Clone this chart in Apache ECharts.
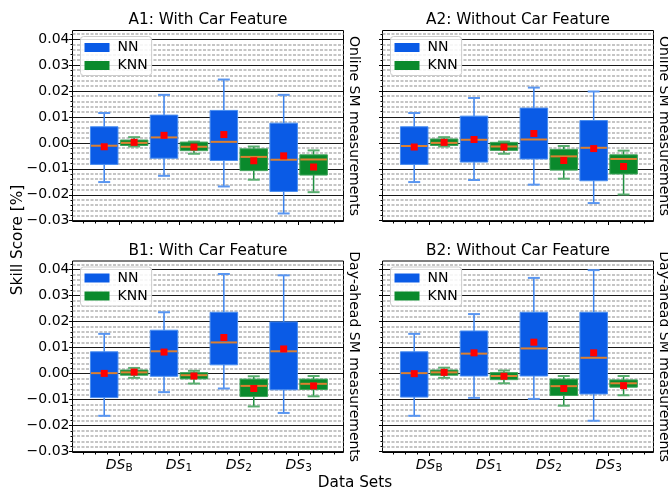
<!DOCTYPE html>
<html><head><meta charset="utf-8">
<script src="https://cdn.jsdelivr.net/npm/echarts@6/dist/echarts.min.js"></script>
<style>html,body{margin:0;padding:0;background:#fff}#c{width:668px;height:493px}</style>
</head><body><div id="c"></div>
<script>
// ---- data ----
const categories = ['B', '1', '2', '3'];           // subscripts of DS labels
const yTickValues = [-0.03, -0.02, -0.01, 0, 0.01, 0.02, 0.03, 0.04];
const panelTitles = ['A1: With Car Feature', 'A2: Without Car Feature', 'B1: With Car Feature', 'B2: Without Car Feature'];
const rowLabels = ['Online SM measurements', 'Day-ahead SM measurements'];
const seriesNames = ['NN', 'KNN'];
// each row: [whiskerLow, q1, median, q3, whiskerHigh, mean]
const A1_NN = [[-0.0151,-0.0083,-0.0011,0.0062,0.0115,-0.0015],[-0.0127,-0.0059,0.0021,0.0107,0.0185,0.0029],[-0.0168,-0.0068,0.0004,0.0125,0.0244,0.0032],[-0.0272,-0.0187,-0.0065,0.0076,0.0185,-0.0050]];
const A1_KNN = [[-0.0014,-0.0010,0.0000,0.0011,0.0022,0.0002],[-0.0042,-0.0030,-0.0015,0.0003,0.0005,-0.0016],[-0.0142,-0.0107,-0.0054,-0.0023,-0.0014,-0.0069],[-0.0190,-0.0124,-0.0064,-0.0046,-0.0029,-0.0093]];
const A2_NN = [[-0.0151,-0.0083,-0.0012,0.0062,0.0115,-0.0016],[-0.0143,-0.0074,0.0012,0.0103,0.0173,0.0013],[-0.0161,-0.0062,0.0013,0.0134,0.0213,0.0036],[-0.0232,-0.0146,-0.0019,0.0086,0.0198,-0.0022]];
const A2_KNN = [[-0.0014,-0.0010,0.0000,0.0015,0.0022,0.0002],[-0.0042,-0.0029,-0.0014,0.0002,0.0005,-0.0016],[-0.0138,-0.0105,-0.0052,-0.0025,-0.0012,-0.0068],[-0.0199,-0.0120,-0.0062,-0.0046,-0.0030,-0.0091]];
const B1_NN = [[-0.0162,-0.0092,0.0002,0.0084,0.0153,0.0001],[-0.0071,-0.0010,0.0086,0.0167,0.0236,0.0083],[-0.0057,0.0034,0.0120,0.0236,0.0383,0.0139],[-0.0151,-0.0062,0.0086,0.0199,0.0378,0.0095]];
const B1_KNN = [[-0.0016,-0.0006,0.0005,0.0014,0.0022,0.0006],[-0.0038,-0.0020,-0.0006,0.0004,0.0011,-0.0009],[-0.0126,-0.0088,-0.0047,-0.0021,-0.0010,-0.0057],[-0.0087,-0.0061,-0.0039,-0.0021,-0.0009,-0.0047]];
const B2_NN = [[-0.0162,-0.0090,0.0002,0.0084,0.0153,0.0000],[-0.0093,-0.0009,0.0077,0.0164,0.0229,0.0080],[-0.0097,-0.0009,0.0097,0.0236,0.0368,0.0121],[-0.0181,-0.0078,0.0061,0.0236,0.0398,0.0080]];
const B2_KNN = [[-0.0016,-0.0006,0.0005,0.0014,0.0023,0.0005],[-0.0037,-0.0023,-0.0009,0.0004,0.0012,-0.0010],[-0.0123,-0.0084,-0.0048,-0.0021,-0.0009,-0.0057],[-0.0083,-0.0052,-0.0037,-0.0024,-0.0009,-0.0046]];
const panelData = [[A1_NN, A1_KNN], [A2_NN, A2_KNN], [B1_NN, B1_KNN], [B2_NN, B2_KNN]];

// ---- styling / layout ----
const FONT = 'DejaVu Sans';
const X_MIN = -0.78, X_MAX = 3.75, Y_MIN = -0.0303, Y_MAX = 0.0433;
const OFFSETS = [-0.25, 0.25], BOX_W = 0.46, CAP_W = 0.2;
const STY = [
  {fill: '#0a5be6', edge: '#4a8ef0', whisk: '#3a82ee', cap: '#5a96f0'},
  {fill: '#0a8a2c', edge: '#3fa35a', whisk: '#1f9040', cap: '#5aae70'}
];
const grids = [
  {left: 72.5, top: 30.5, width: 271, height: 191},
  {left: 382.5, top: 30.5, width: 271, height: 191},
  {left: 72.5, top: 261, width: 271, height: 191.5},
  {left: 382.5, top: 261, width: 271, height: 191.5}
];

const yMinor = [];
for (let i = 0; i < yTickValues.length; i++) {
  for (let k = 1; k < 5; k++) {
    const v = +(yTickValues[i] + k * 0.002).toFixed(4);
    if (v < Y_MAX) yMinor.push(v);
  }
}
const catPos = categories.map((_, i) => i);
const xMinor = [];
for (let v = -3; v <= 19; v++) {
  const x = +(v * 0.2).toFixed(2);
  if (x > X_MIN && x < X_MAX && Math.abs(x - Math.round(x)) > 1e-6) xMinor.push(x);
}
function fmtY(v) {
  if (Math.abs(v) < 1e-9) return '0.00';
  return v < 0 ? '\u2212' + (-v).toFixed(2) : v.toFixed(2);
}

function renderBox(sty) {
  return function (params, api) {
    const x = api.value(0);
    const c = (v) => api.coord([x, v]);
    const low = c(api.value(1)), q1 = c(api.value(2)), med = c(api.value(3)),
          q3 = c(api.value(4)), high = c(api.value(5)), mean = c(api.value(6));
    const bw = api.size([BOX_W, 0])[0];
    const cw = api.size([CAP_W, 0])[0];
    const px = low[0];
    return {
      type: 'group',
      children: [
        {type: 'line', shape: {x1: px, y1: q3[1], x2: px, y2: high[1]}, style: {stroke: sty.whisk, lineWidth: 1.5}},
        {type: 'line', shape: {x1: px, y1: q1[1], x2: px, y2: low[1]}, style: {stroke: sty.whisk, lineWidth: 1.5}},
        {type: 'line', shape: {x1: px - cw / 2, y1: high[1], x2: px + cw / 2, y2: high[1]}, style: {stroke: sty.cap, lineWidth: 2}},
        {type: 'line', shape: {x1: px - cw / 2, y1: low[1], x2: px + cw / 2, y2: low[1]}, style: {stroke: sty.cap, lineWidth: 2}},
        {type: 'rect', shape: {x: px - bw / 2, y: q3[1], width: bw, height: q1[1] - q3[1]}, style: {fill: sty.fill, stroke: sty.edge, lineWidth: 1}},
        {type: 'line', shape: {x1: px - bw / 2 + 0.5, y1: med[1], x2: px + bw / 2 - 0.5, y2: med[1]}, style: {stroke: '#dc8030', lineWidth: 2}},
        {type: 'rect', shape: {x: mean[0] - 3.5, y: mean[1] - 3.5, width: 7, height: 7}, style: {fill: '#ff0000'}}
      ]
    };
  };
}

const xAxis = [], yAxis = [], series = [], legend = [], graphic = [];
grids.forEach((g, gi) => {
  const row = gi >> 1, col = gi & 1;
  xAxis.push({
    gridIndex: gi, type: 'value', min: X_MIN, max: X_MAX, position: 'bottom',
    axisLine: {show: false, onZero: false}, splitLine: {show: false},
    axisTick: {show: true, customValues: catPos, length: 3.5, lineStyle: {color: '#000', width: 1}},
    axisLabel: {
      show: row === 1, customValues: catPos, margin: 4, color: '#000',
      formatter: (v) => '{i|DS}{s|' + categories[Math.round(v)] + '}',
      rich: {
        i: {fontFamily: FONT, fontStyle: 'italic', fontSize: 14, color: '#000'},
        s: {fontFamily: FONT, fontSize: 10.5, color: '#000', padding: [6, 0, 0, 0]}
      }
    }
  });
  xAxis.push({
    gridIndex: gi, type: 'value', min: X_MIN, max: X_MAX, position: 'bottom',
    axisLine: {show: false, onZero: false}, splitLine: {show: false}, axisLabel: {show: false},
    axisTick: {show: true, customValues: xMinor, length: 2, lineStyle: {color: '#000', width: 1}}
  });
  yAxis.push({
    gridIndex: gi, type: 'value', min: Y_MIN, max: Y_MAX, position: 'left',
    axisLine: {show: false, onZero: false}, axisLabel: {show: false},
    axisTick: {show: true, customValues: yMinor, length: 2, lineStyle: {color: '#000', width: 1}},
    splitLine: {show: true, lineStyle: {color: '#b2b2b2', width: 1.5, type: [3, 1.5]}}
  });
  yAxis.push({
    gridIndex: gi, type: 'value', min: Y_MIN, max: Y_MAX, position: 'left',
    axisLine: {show: false, onZero: false},
    axisTick: {show: true, customValues: yTickValues, length: 3.5, lineStyle: {color: '#000', width: 1}},
    axisLabel: {show: col === 0, customValues: yTickValues, formatter: fmtY, margin: 3,
      fontFamily: FONT, fontSize: 14, color: '#000'},
    splitLine: {show: true, lineStyle: {color: '#1a1a1a', width: 1}}
  });
  panelData[gi].forEach((arr, si) => {
    series.push({
      type: 'custom', name: seriesNames[si],
      xAxisIndex: gi * 2, yAxisIndex: gi * 2 + 1,
      itemStyle: {color: STY[si].fill},
      renderItem: renderBox(STY[si]),
      encode: {x: 0, y: [1, 2, 3, 4, 5, 6]},
      data: arr.map((d, ci) => [ci + OFFSETS[si]].concat(d)),
      z: 3, silent: true
    });
  });
  legend.push({
    data: seriesNames, orient: 'vertical', left: g.left + 8, top: g.top + 6,
    icon: 'rect', itemWidth: 25, itemHeight: 9, itemGap: 4, selectedMode: false,
    textStyle: {fontFamily: FONT, fontSize: 14, color: '#000', padding: [0, 0, 0, 3]},
    backgroundColor: 'rgba(255,255,255,0.85)', borderColor: '#cccccc', borderWidth: 1,
    borderRadius: 3, padding: [4, 4, 3, 4]
  });
  graphic.push({
    type: 'text', x: g.left + g.width / 2, y: g.top - 10,
    style: {text: panelTitles[gi], font: '15.3px "DejaVu Sans"', fill: '#000', align: 'center', verticalAlign: 'middle'}
  });
  graphic.push({
    type: 'text', x: g.left + g.width + 10, y: g.top + g.height / 2, rotation: -Math.PI / 2,
    style: {text: rowLabels[row], font: '14px "DejaVu Sans"', fill: '#000', align: 'center', verticalAlign: 'middle'}
  });
});
graphic.push({
  type: 'text', x: 18, y: 240, rotation: Math.PI / 2,
  style: {text: 'Skill Score [%]', font: '15.3px "DejaVu Sans"', fill: '#000', align: 'center', verticalAlign: 'middle'}
});
graphic.push({
  type: 'text', x: 355, y: 483,
  style: {text: 'Data Sets', font: '15.3px "DejaVu Sans"', fill: '#000', align: 'center', verticalAlign: 'middle'}
});

const chart = echarts.init(document.getElementById('c'), null, {renderer: 'canvas'});
chart.setOption({
  animation: false,
  backgroundColor: '#fff',
  textStyle: {fontFamily: FONT},
  grid: grids.map(g => Object.assign({show: true, borderColor: '#000', borderWidth: 1, backgroundColor: 'transparent', outerBoundsMode: 'none', containLabel: false}, g)),
  xAxis, yAxis, series, legend, graphic
});
</script></body></html>
